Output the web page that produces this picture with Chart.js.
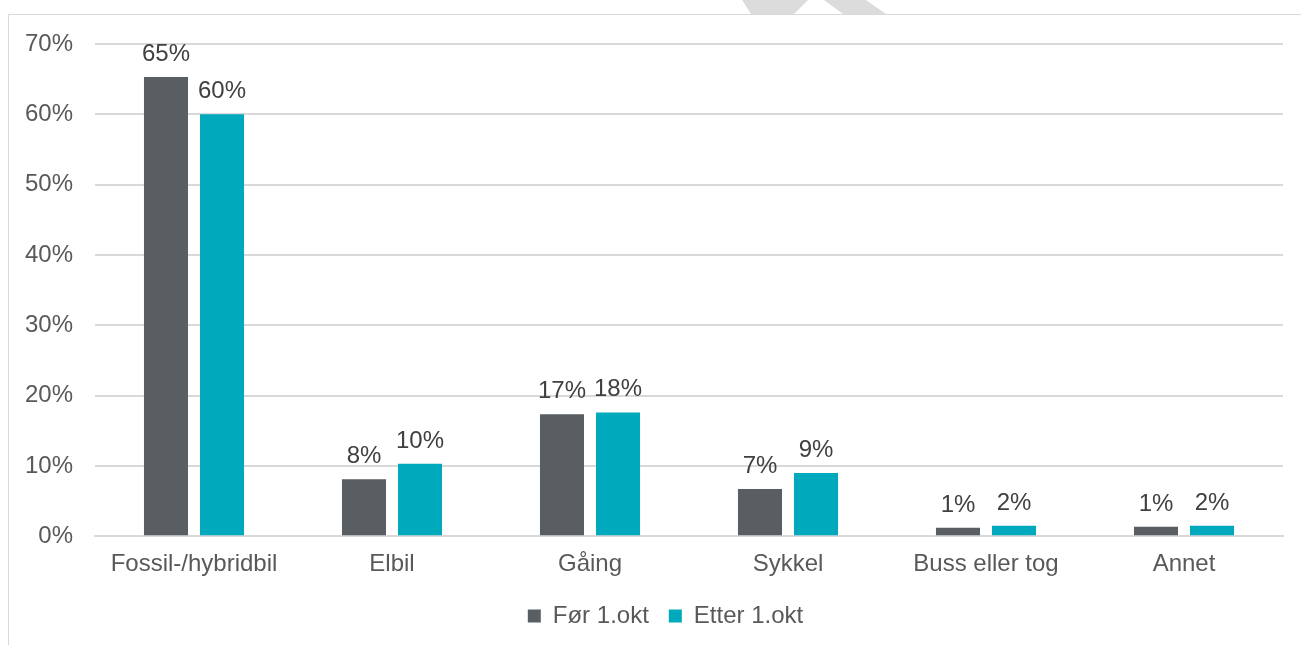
<!DOCTYPE html>
<html>
<head>
<meta charset="utf-8">
<script src="https://cdn.jsdelivr.net/npm/chart.js@4.4.1/dist/chart.umd.min.js"></script>
<style>
  html, body { margin: 0; padding: 0; background: #fff; }
  #wrap { position: absolute; left: 0; top: 0; width: 1301px; height: 645px; }
</style>
</head>
<body>
<div id="wrap"><canvas id="chart" width="1301" height="645"></canvas></div>
<script>
// kategorier og verdier
const kategorier = ['Fossil-/hybridbil', 'Elbil', 'Gåing', 'Sykkel', 'Buss eller tog', 'Annet'];
const forOkt = [65.3, 8.1, 17.35, 6.7, 1.2, 1.35];
const etterOkt = [60.0, 10.3, 17.6, 9.0, 1.5, 1.5];
const serieNavn = ['Før 1.okt', 'Etter 1.okt'];
const yTicks = [0, 10, 20, 30, 40, 50, 60, 70];

const FONT = '"Liberation Sans", Arial, sans-serif';
const FS = 24;

// ramme + grå figur oppe
const rammePlugin = {
  id: 'ramme',
  afterLayout(chart) {
    // flytt tegnforklaringen litt (midtstilt under plottet i originalen)
    const lg = chart.legend;
    lg.left += 24; lg.right += 24;
    lg.top -= 9; lg.bottom -= 9;
  },
  beforeDraw(chart) {
    const c = chart.ctx;
    c.save();
    c.fillStyle = '#dcdcdc';
    c.beginPath();
    c.moveTo(742, 0); c.lineTo(808, 0); c.lineTo(794, 14); c.lineTo(751, 14);
    c.closePath(); c.fill();
    c.beginPath();
    c.moveTo(824, 0); c.lineTo(866, 0); c.lineTo(886, 14); c.lineTo(843, 14);
    c.closePath(); c.fill();
    c.strokeStyle = '#d9d9d9';
    c.lineWidth = 1;
    c.beginPath();
    c.moveTo(8.5, chart.height); c.lineTo(8.5, 14.5); c.lineTo(chart.width, 14.5);
    c.stroke();
    c.restore();
  }
};

// prosentetiketter over stolpene
const etikettPlugin = {
  id: 'etiketter',
  afterDatasetsDraw(chart) {
    const c = chart.ctx;
    c.save();
    c.font = FS + 'px ' + FONT;
    c.fillStyle = '#404040';
    c.textAlign = 'center';
    c.textBaseline = 'alphabetic';
    chart.data.datasets.forEach((ds, i) => {
      chart.getDatasetMeta(i).data.forEach((bar, j) => {
        c.fillText(Math.round(ds.data[j]) + '%', bar.x, bar.y - 16);
      });
    });
    c.restore();
  }
};

new Chart(document.getElementById('chart'), {
  type: 'bar',
  data: {
    labels: kategorier,
    datasets: [
      { label: serieNavn[0], data: forOkt, backgroundColor: '#595e62' },
      { label: serieNavn[1], data: etterOkt, backgroundColor: '#00a9bc' }
    ]
  },
  options: {
    responsive: false,
    animation: false,
    devicePixelRatio: 1,
    categoryPercentage: 0.566,
    barPercentage: 0.786,
    layout: { padding: { left: 0, right: 18, top: 44, bottom: -2 } },
    scales: {
      x: {
        grid: { display: false, drawTicks: false },
        border: { display: true, color: '#d9d9d9', width: 2 },
        ticks: { color: '#595959', font: { family: FONT, size: FS }, padding: 14, maxRotation: 0 }
      },
      y: {
        min: 0,
        max: 70,
        afterFit(scale) { scale.width = 95; },
        afterBuildTicks(scale) { scale.ticks = yTicks.map(v => ({ value: v })); },
        grid: { color: '#d9d9d9', lineWidth: 2, drawTicks: false },
        border: { display: false },
        ticks: {
          color: '#595959',
          font: { family: FONT, size: FS },
          padding: 22,
          callback: v => v + '%'
        }
      }
    },
    plugins: {
      legend: {
        position: 'bottom',
        labels: {
          color: '#595959',
          font: { family: FONT, size: FS },
          boxWidth: 13,
          boxHeight: 13,
          padding: 20
        }
      },
      tooltip: { enabled: false }
    }
  },
  plugins: [rammePlugin, etikettPlugin]
});
</script>
</body>
</html>
